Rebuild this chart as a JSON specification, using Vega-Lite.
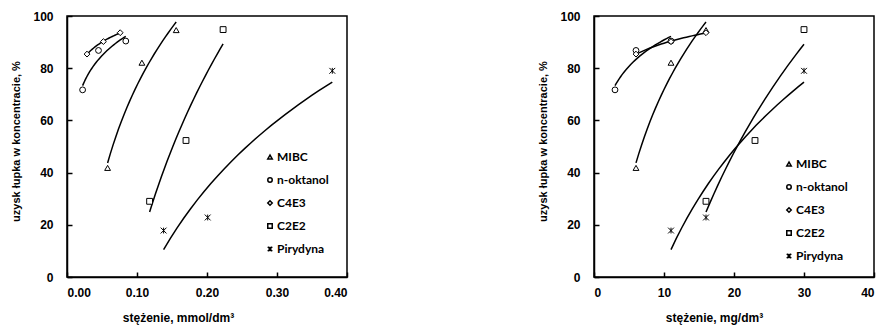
{
  "$schema": "https://vega.github.io/schema/vega-lite/v6.json",
  "background": "white",
  "padding": {"left": 10, "top": 9, "right": 5, "bottom": 5},
  "config": {
    "font": "Liberation Sans",
    "view": {"stroke": "black", "strokeWidth": 1.5},
    "axis": {
      "grid": false, "domainColor": "black", "domainWidth": 1.5,
      "tickColor": "black", "tickWidth": 1.5, "tickSize": -5,
      "labelFont": "Liberation Sans", "labelFontSize": 12, "labelFontWeight": "bold", "labelColor": "black",
      "titleFont": "Liberation Sans", "titleFontSize": 12, "titleFontWeight": "bold", "titleColor": "black"
    },
    "legend": {
      "labelFont": "Lato", "labelFontSize": 12, "labelFontWeight": "bold", "labelColor": "black",
      "symbolSize": 20, "rowPadding": 11, "labelOffset": 1
    }
  },
  "datasets": {
    "mmol": [
      {"s": "MIBC", "x": 0.058, "y": 41.8},
      {"s": "MIBC", "x": 0.107, "y": 82.1},
      {"s": "MIBC", "x": 0.156, "y": 94.6},
      {"s": "n-oktanol", "x": 0.0223, "y": 71.7},
      {"s": "n-oktanol", "x": 0.045, "y": 86.8},
      {"s": "n-oktanol", "x": 0.084, "y": 90.4},
      {"s": "C4E3", "x": 0.0286, "y": 85.4},
      {"s": "C4E3", "x": 0.052, "y": 90.2},
      {"s": "C4E3", "x": 0.076, "y": 93.6},
      {"s": "C2E2", "x": 0.118, "y": 29.0},
      {"s": "C2E2", "x": 0.170, "y": 52.3},
      {"s": "C2E2", "x": 0.223, "y": 94.8},
      {"s": "Pirydyna", "x": 0.138, "y": 17.8},
      {"s": "Pirydyna", "x": 0.201, "y": 22.8},
      {"s": "Pirydyna", "x": 0.379, "y": 79.0}
    ],
    "mg": [
      {"s": "MIBC", "x": 6, "y": 41.8},
      {"s": "MIBC", "x": 11, "y": 82.1},
      {"s": "MIBC", "x": 16, "y": 94.6},
      {"s": "n-oktanol", "x": 3, "y": 71.7},
      {"s": "n-oktanol", "x": 6, "y": 86.8},
      {"s": "n-oktanol", "x": 11, "y": 90.4},
      {"s": "C4E3", "x": 6, "y": 85.4},
      {"s": "C4E3", "x": 11, "y": 90.2},
      {"s": "C4E3", "x": 16, "y": 93.6},
      {"s": "C2E2", "x": 16, "y": 29.0},
      {"s": "C2E2", "x": 23, "y": 52.3},
      {"s": "C2E2", "x": 30, "y": 94.8},
      {"s": "Pirydyna", "x": 11, "y": 17.8},
      {"s": "Pirydyna", "x": 16, "y": 22.8},
      {"s": "Pirydyna", "x": 30, "y": 79.0}
    ]
  },
  "spacing": 188,
  "resolve": {"scale": {"shape": "independent"}, "legend": {"shape": "independent"}},
  "hconcat": [
    {
      "width": 280, "height": 261,
      "data": {"name": "mmol"},
      "layer": [
        {
          "transform": [{"regression": "y", "on": "x", "groupby": ["s"], "method": "log"}],
          "mark": {"type": "line", "color": "black", "strokeWidth": 1.5},
          "encoding": {
            "x": {"field": "x", "type": "quantitative", "scale": {"domain": [0, 0.4], "nice": false}},
            "y": {"field": "y", "type": "quantitative", "scale": {"domain": [0, 100], "nice": false}},
            "detail": {"field": "s"}
          }
        },
        {
          "mark": {"type": "point", "filled": true, "fill": "white", "stroke": "black", "strokeWidth": 1, "size": 34, "opacity": 1},
          "encoding": {
            "x": {"field": "x", "type": "quantitative", "scale": {"domain": [0, 0.4], "nice": false},
                  "axis": {"values": [0, 0.1, 0.2, 0.3, 0.4], "format": ".2f", "title": "stężenie, mmol/dm³", "labelPadding": 15, "titlePadding": 14, "titleX": 111, "titleAnchor": "middle", "titleAlign": "center"}},
            "y": {"field": "y", "type": "quantitative", "scale": {"domain": [0, 100], "nice": false},
                  "axis": {"values": [0, 20, 40, 60, 80, 100], "title": "uzysk łupka w koncentracie, %", "titleFontSize": 11, "labelPadding": 19, "titlePadding": 11, "titleY": 125}},
            "shape": {"field": "s", "type": "nominal",
                      "scale": {"domain": ["MIBC", "n-oktanol", "C4E3", "C2E2", "Pirydyna"],
                                "range": ["triangle-up", "circle", "diamond", "square", "M-1,-1L1,1M1,-1L-1,1M0,-1L0,1"]},
                      "legend": {"orient": "none", "legendX": 197, "legendY": 135, "title": null,
                                 "encode": {"symbols": {"update": {"stroke": {"value": "black"}, "strokeWidth": {"value": 1}, "fill": {"value": "white"}, "opacity": {"value": 1}}}}}}
          }
        }
      ]
    },
    {
      "width": 280, "height": 261,
      "data": {"name": "mg"},
      "layer": [
        {
          "transform": [{"regression": "y", "on": "x", "groupby": ["s"], "method": "log"}],
          "mark": {"type": "line", "color": "black", "strokeWidth": 1.5},
          "encoding": {
            "x": {"field": "x", "type": "quantitative", "scale": {"domain": [0, 40], "nice": false}},
            "y": {"field": "y", "type": "quantitative", "scale": {"domain": [0, 100], "nice": false}},
            "detail": {"field": "s"}
          }
        },
        {
          "mark": {"type": "point", "filled": true, "fill": "white", "stroke": "black", "strokeWidth": 1, "size": 34, "opacity": 1},
          "encoding": {
            "x": {"field": "x", "type": "quantitative", "scale": {"domain": [0, 40], "nice": false},
                  "axis": {"values": [0, 10, 20, 30, 40], "title": "stężenie, mg/dm³", "labelPadding": 15, "titlePadding": 14, "titleX": 120, "titleAnchor": "middle", "titleAlign": "center"}},
            "y": {"field": "y", "type": "quantitative", "scale": {"domain": [0, 100], "nice": false},
                  "axis": {"values": [0, 20, 40, 60, 80, 100], "title": "uzysk łupka w koncentracie, %", "titleFontSize": 11, "labelPadding": 19, "titlePadding": 11, "titleY": 125}},
            "shape": {"field": "s", "type": "nominal",
                      "scale": {"domain": ["MIBC", "n-oktanol", "C4E3", "C2E2", "Pirydyna"],
                                "range": ["triangle-up", "circle", "diamond", "square", "M-1,-1L1,1M1,-1L-1,1M0,-1L0,1"]},
                      "legend": {"orient": "none", "legendX": 189, "legendY": 142, "title": null,
                                 "encode": {"symbols": {"update": {"stroke": {"value": "black"}, "strokeWidth": {"value": 1}, "fill": {"value": "white"}, "opacity": {"value": 1}}}}}}
          }
        }
      ]
    }
  ]
}
